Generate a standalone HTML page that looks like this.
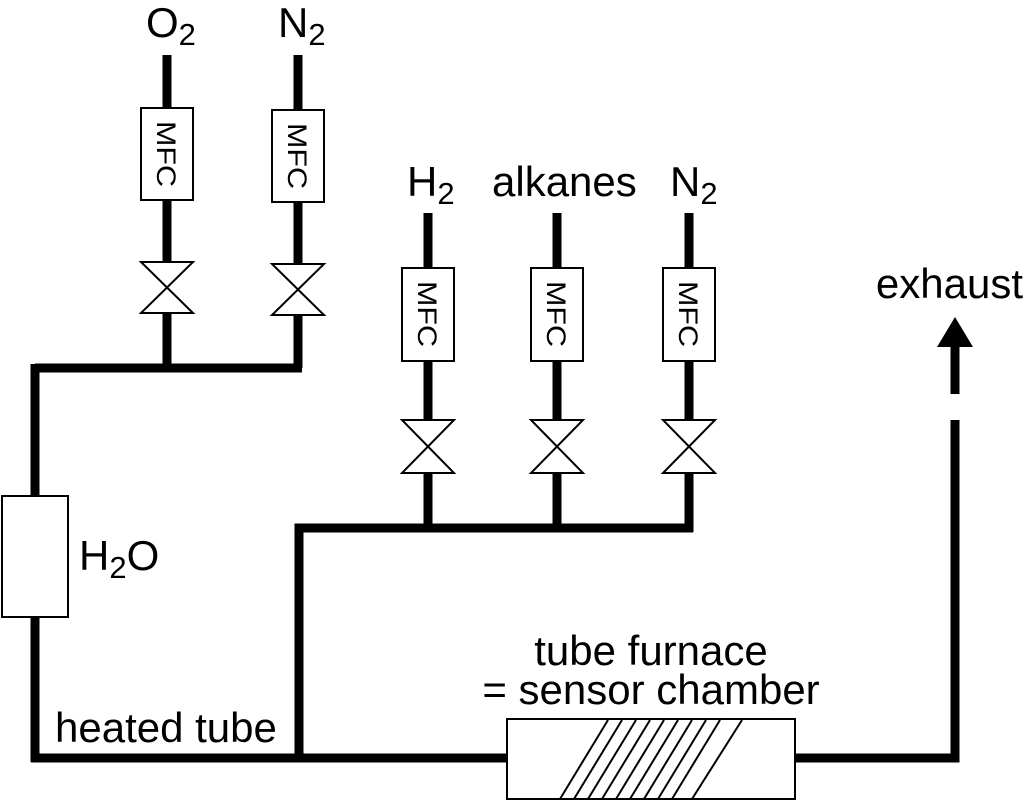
<!DOCTYPE html>
<html><head><style>body{margin:0;background:#fff}svg{display:block}</style></head><body>
<svg width="1024" height="800" viewBox="0 0 1024 800" xmlns="http://www.w3.org/2000/svg" font-family="Liberation Sans, sans-serif">
<g stroke="#000" stroke-width="9" fill="none" stroke-linecap="butt">
<line x1="167" y1="55" x2="167" y2="262"/>
<line x1="167" y1="313" x2="167" y2="368"/>
<line x1="298" y1="55" x2="298" y2="264"/>
<line x1="298" y1="315" x2="298" y2="368"/>
<polyline points="35,368 302,368"/>
<line x1="35" y1="364" x2="35" y2="762"/>
<line x1="428" y1="213" x2="428" y2="420"/>
<line x1="428" y1="473" x2="428" y2="528"/>
<line x1="557" y1="213" x2="557" y2="420"/>
<line x1="557" y1="473" x2="557" y2="528"/>
<line x1="689" y1="213" x2="689" y2="420"/>
<line x1="689" y1="473" x2="689" y2="532"/>
<polyline points="299,762 299,528 693,528"/>
<polyline points="31,758 507,758"/>
<polyline points="795,758 955,758 955,420"/>
<line x1="955" y1="345" x2="955" y2="394"/>
</g>
<polygon points="955,317 937,347 973,347" fill="#000"/>
<g stroke="#000" stroke-width="2" fill="#fff">
<rect x="141" y="108" width="52" height="92"/>
<rect x="272" y="110" width="52" height="92"/>
<rect x="402" y="268" width="52" height="93"/>
<rect x="531" y="268" width="52" height="93"/>
<rect x="663" y="268" width="52" height="93"/>
<polygon points="141,262 193,262 141,313 193,313"/>
<polygon points="272,264 324,264 272,315 324,315"/>
<polygon points="402,420 454,420 402,473 454,473"/>
<polygon points="531,420 583,420 531,473 583,473"/>
<polygon points="663,420 715,420 663,473 715,473"/>
<rect x="2" y="496" width="66" height="121"/>
<rect x="507" y="719" width="288" height="80"/>
</g>
<g stroke="#000" stroke-width="2">
<line x1="560" y1="799" x2="608" y2="720"/>
<line x1="574" y1="799" x2="622" y2="720"/>
<line x1="588" y1="799" x2="636" y2="720"/>
<line x1="602" y1="799" x2="650" y2="720"/>
<line x1="616" y1="799" x2="664" y2="720"/>
<line x1="630" y1="799" x2="678" y2="720"/>
<line x1="644" y1="799" x2="692" y2="720"/>
<line x1="658" y1="799" x2="706" y2="720"/>
<line x1="672" y1="799" x2="720" y2="720"/>
<line x1="692" y1="799" x2="742" y2="720"/>
</g>
<g font-size="27" fill="#000">
<text transform="translate(157,154) rotate(90)" text-anchor="middle" textLength="66" lengthAdjust="spacingAndGlyphs">MFC</text>
<text transform="translate(288,156) rotate(90)" text-anchor="middle" textLength="66" lengthAdjust="spacingAndGlyphs">MFC</text>
<text transform="translate(418,314) rotate(90)" text-anchor="middle" textLength="66" lengthAdjust="spacingAndGlyphs">MFC</text>
<text transform="translate(547,314) rotate(90)" text-anchor="middle" textLength="66" lengthAdjust="spacingAndGlyphs">MFC</text>
<text transform="translate(679,314) rotate(90)" text-anchor="middle" textLength="66" lengthAdjust="spacingAndGlyphs">MFC</text>
</g>
<g font-size="42" fill="#000">
<text x="146" y="37">O<tspan font-size="31" dy="8">2</tspan></text>
<text x="278" y="37">N<tspan font-size="31" dy="8">2</tspan></text>
<text x="407" y="196">H<tspan font-size="31" dy="8">2</tspan></text>
<text x="492" y="196">alkanes</text>
<text x="670" y="196">N<tspan font-size="31" dy="8">2</tspan></text>
<text x="79" y="570">H<tspan font-size="31" dy="8">2</tspan><tspan dy="-8">O</tspan></text>
<text x="55" y="742">heated tube</text>
<text x="651" y="665" text-anchor="middle">tube furnace</text>
<text x="651" y="704" text-anchor="middle">= sensor chamber</text>
<text x="1023" y="298" text-anchor="end">exhaust</text>
</g>
</svg>
</body></html>
